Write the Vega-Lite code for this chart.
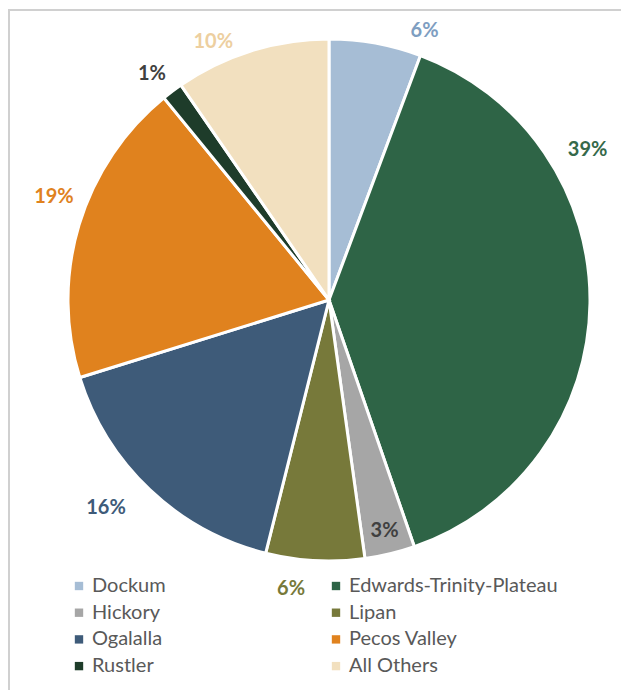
{
  "$schema": "https://vega.github.io/schema/vega-lite/v6.json",
  "width": 640,
  "height": 700,
  "autosize": {"type": "none"},
  "padding": {"left": 9, "top": 10, "right": 0, "bottom": 0},
  "background": "white",
  "view": {"stroke": "#D0D0D0", "strokeWidth": 2},
  "title": {"text": "by Aquifer", "font": "Lato", "fontSize": 24, "fontWeight": "bold", "color": "#000000", "anchor": "middle", "frame": "group", "dx": -34, "offset": 4},
  "config": {
    "font": "Lato"
  },
  "data": {"values": [
    {"aquifer": "Dockum", "share": 0.057, "rank": 1},
    {"aquifer": "Edwards-Trinity-Plateau", "share": 0.390, "rank": 2},
    {"aquifer": "Hickory", "share": 0.031, "rank": 3},
    {"aquifer": "Lipan", "share": 0.061, "rank": 4},
    {"aquifer": "Ogalalla", "share": 0.163, "rank": 5},
    {"aquifer": "Pecos Valley", "share": 0.189, "rank": 6},
    {"aquifer": "Rustler", "share": 0.013, "rank": 7},
    {"aquifer": "All Others", "share": 0.096, "rank": 8}
  ]},
  "encoding": {
    "theta": {"field": "share", "type": "quantitative", "stack": true},
    "order": {"field": "rank", "type": "quantitative"}
  },
  "layer": [
    {
      "mark": {"type": "arc", "outerRadius": 261, "stroke": "white", "strokeWidth": 3, "yOffset": -60},
      "encoding": {
        "color": {
          "field": "aquifer", "type": "nominal",
          "scale": {
            "domain": ["Dockum", "Hickory", "Ogalalla", "Rustler", "Edwards-Trinity-Plateau", "Lipan", "Pecos Valley", "All Others"],
            "range": ["#A6BDD5", "#A6A6A6", "#3E5B79", "#1E3C2A", "#2E6446", "#77793A", "#E0821E", "#F2E0BF"]
          },
          "legend": {
            "title": null, "orient": "none", "legendX": 60, "legendY": 566,
            "columns": 2, "columnPadding": 160, "rowPadding": 6.7,
            "symbolType": "square", "symbolSize": 70, "symbolStrokeWidth": 0,
            "labelFont": "Lato", "labelFontSize": 20, "labelColor": "#595959", "labelOffset": 3,
            "labelLimit": 400
          }
        }
      }
    },
    {
      "mark": {"type": "text", "radius": 238, "yOffset": -60, "font": "Lato", "fontWeight": "bold", "color": "#404040"},
      "encoding": {
        "text": {"condition": {"test": "datum.aquifer === 'Hickory'", "field": "share", "format": ".0%"}, "value": ""},
        "size": {"condition": {"test": "datum.aquifer === 'Hickory'", "value": 20}, "value": 0}
      }
    },
    {
      "mark": {"type": "text", "radius": 285.6, "thetaOffset": 0.162, "yOffset": -60, "font": "Lato", "fontWeight": "bold", "color": "#7E9EC1"},
      "encoding": {
        "text": {"condition": {"test": "datum.aquifer === 'Dockum'", "field": "share", "format": ".0%"}, "value": ""},
        "size": {"condition": {"test": "datum.aquifer === 'Dockum'", "value": 20}, "value": 0}
      }
    },
    {
      "mark": {"type": "text", "radius": 299, "thetaOffset": -0.538, "yOffset": -60, "font": "Lato", "fontWeight": "bold", "color": "#35694A"},
      "encoding": {
        "text": {"condition": {"test": "datum.aquifer === 'Edwards-Trinity-Plateau'", "field": "share", "format": ".0%"}, "value": ""},
        "size": {"condition": {"test": "datum.aquifer === 'Edwards-Trinity-Plateau'", "value": 20}, "value": 0}
      }
    },
    {
      "mark": {"type": "text", "radius": 291.5, "thetaOffset": 0.077, "yOffset": -60, "font": "Lato", "fontWeight": "bold", "color": "#77793A"},
      "encoding": {
        "text": {"condition": {"test": "datum.aquifer === 'Lipan'", "field": "share", "format": ".0%"}, "value": ""},
        "size": {"condition": {"test": "datum.aquifer === 'Lipan'", "value": 20}, "value": 0}
      }
    },
    {
      "mark": {"type": "text", "radius": 305, "thetaOffset": 0.063, "yOffset": -60, "font": "Lato", "fontWeight": "bold", "color": "#3E5B79"},
      "encoding": {
        "text": {"condition": {"test": "datum.aquifer === 'Ogalalla'", "field": "share", "format": ".0%"}, "value": ""},
        "size": {"condition": {"test": "datum.aquifer === 'Ogalalla'", "value": 20}, "value": 0}
      }
    },
    {
      "mark": {"type": "text", "radius": 293.7, "thetaOffset": 0.066, "yOffset": -60, "font": "Lato", "fontWeight": "bold", "color": "#E0821E"},
      "encoding": {
        "text": {"condition": {"test": "datum.aquifer === 'Pecos Valley'", "field": "share", "format": ".0%"}, "value": ""},
        "size": {"condition": {"test": "datum.aquifer === 'Pecos Valley'", "value": 20}, "value": 0}
      }
    },
    {
      "mark": {"type": "text", "radius": 287, "thetaOffset": -0.021, "yOffset": -60, "font": "Lato", "fontWeight": "bold", "color": "#404040"},
      "encoding": {
        "text": {"condition": {"test": "datum.aquifer === 'Rustler'", "field": "share", "format": ".0%"}, "value": ""},
        "size": {"condition": {"test": "datum.aquifer === 'Rustler'", "value": 20}, "value": 0}
      }
    },
    {
      "mark": {"type": "text", "radius": 282.9, "thetaOffset": -0.120, "yOffset": -60, "font": "Lato", "fontWeight": "bold", "color": "#EDCFA0"},
      "encoding": {
        "text": {"condition": {"test": "datum.aquifer === 'All Others'", "field": "share", "format": ".0%"}, "value": ""},
        "size": {"condition": {"test": "datum.aquifer === 'All Others'", "value": 20}, "value": 0}
      }
    }
  ]
}
